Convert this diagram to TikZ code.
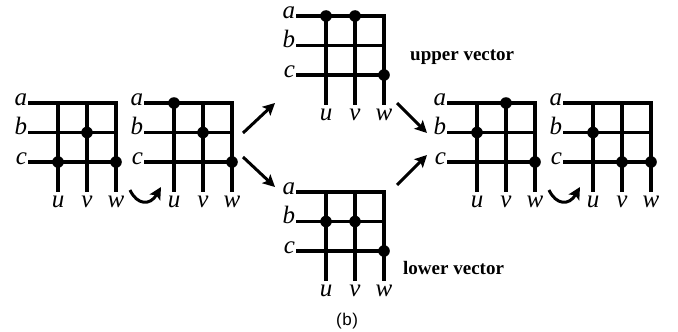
\documentclass[tikz,border=0pt]{standalone}
\usepackage{fontspec}
\setmainfont{Liberation Serif}
\newfontfamily\capfont{Liberation Sans}
\usetikzlibrary{arrows.meta}
\tikzset{
  gl/.style={line width=3.2pt, line join=miter, line cap=butt},
  dotc/.style={fill=black},
  rowlab/.style={anchor=mid east, inner sep=0.8pt, font=\fontsize{25}{25}\selectfont\itshape},
  collab/.style={anchor=base, inner sep=0pt, font=\fontsize{25}{25}\selectfont\itshape},
  vlab/.style={anchor=base west, inner sep=0pt, font=\fontsize{19}{19}\selectfont\bfseries},
  arr/.style={line width=3pt, -{Stealth[length=12pt,width=12pt,inset=2.5pt]}},
}
\newcommand{\tgrid}[4]{%
  \pgfmathsetmacro\gu{#2}\pgfmathsetmacro\ga{#3}%
  \foreach \R/\dy in {a/0,b/29.5,c/59}{%
    \coordinate (#1-\R-0) at (\gu-30,\ga+\dy);
    \node[rowlab] (#1-l\R) at (#1-\R-0) {\R};
    \foreach \C/\dx in {u/0,v/29,w/58}{%
      \coordinate (#1-\R-\C) at (\gu+\dx,\ga+\dy);
    }
  }
  \foreach \C/\dx in {u/0,v/29,w/58}{%
    \coordinate (#1-\C-bot) at (\gu+\dx,\ga+88.5);
    \node[collab] (#1-l\C) at (\gu+\dx,\ga+104) {\C};
  }
  \draw[gl] (#1-a-0) -- (#1-a-w) -- (#1-w-bot);
  \draw[gl] (#1-b-0) -- (#1-b-w);
  \draw[gl] (#1-c-0) -- (#1-c-w);
  \draw[gl] (#1-a-u) -- (#1-u-bot);
  \draw[gl] (#1-a-v) -- (#1-v-bot);
  \foreach \D in {#4}{\fill[dotc] (#1-\D) circle (5.8);}
}
\begin{document}
\begin{tikzpicture}[x=1pt,y=-1pt]
\useasboundingbox[fill=white] (0,0) rectangle (678,332);
\tgrid{g1}{58}{103}{b-v,c-u,c-w}
\tgrid{g2}{174}{103}{a-u,b-v,c-w}
\tgrid{up}{326}{16}{a-u,a-v,c-w}
\tgrid{lo}{326}{192}{b-u,b-v,c-w}
\tgrid{g4}{477}{103}{a-v,b-u,c-w}
\tgrid{g5}{593}{103}{b-u,c-v,c-w}
\node[vlab] (uplab) at (410,60) {upper vector};
\node[vlab] (lolab) at (403,274) {lower vector};
\node[anchor=base, inner sep=0pt, font=\capfont\fontsize{17}{17}\selectfont] (cap) at (347,325) {(\kern0.6pt b\kern0.6pt)};
% straight arrows
\coordinate (a1s) at (243,133); \coordinate (a1e) at (275,103);
\coordinate (a2s) at (243,157); \coordinate (a2e) at (275,187);
\coordinate (a3s) at (397,103); \coordinate (a3e) at (427,133);
\coordinate (a4s) at (397,185); \coordinate (a4e) at (427,155);
\draw[arr] (a1s) -- (a1e);
\draw[arr] (a2s) -- (a2e);
\draw[arr] (a3s) -- (a3e);
\draw[arr] (a4s) -- (a4e);
% curved arrows
\coordinate (c1s) at (130,190); \coordinate (c1e) at (161,187);
\coordinate (c2s) at (549,190); \coordinate (c2e) at (580,187);
\draw[arr] (c1s) .. controls (137,205) and (150,206) .. (c1e);
\draw[arr] (c2s) .. controls (556,205) and (569,206) .. (c2e);
\end{tikzpicture}
\end{document}
